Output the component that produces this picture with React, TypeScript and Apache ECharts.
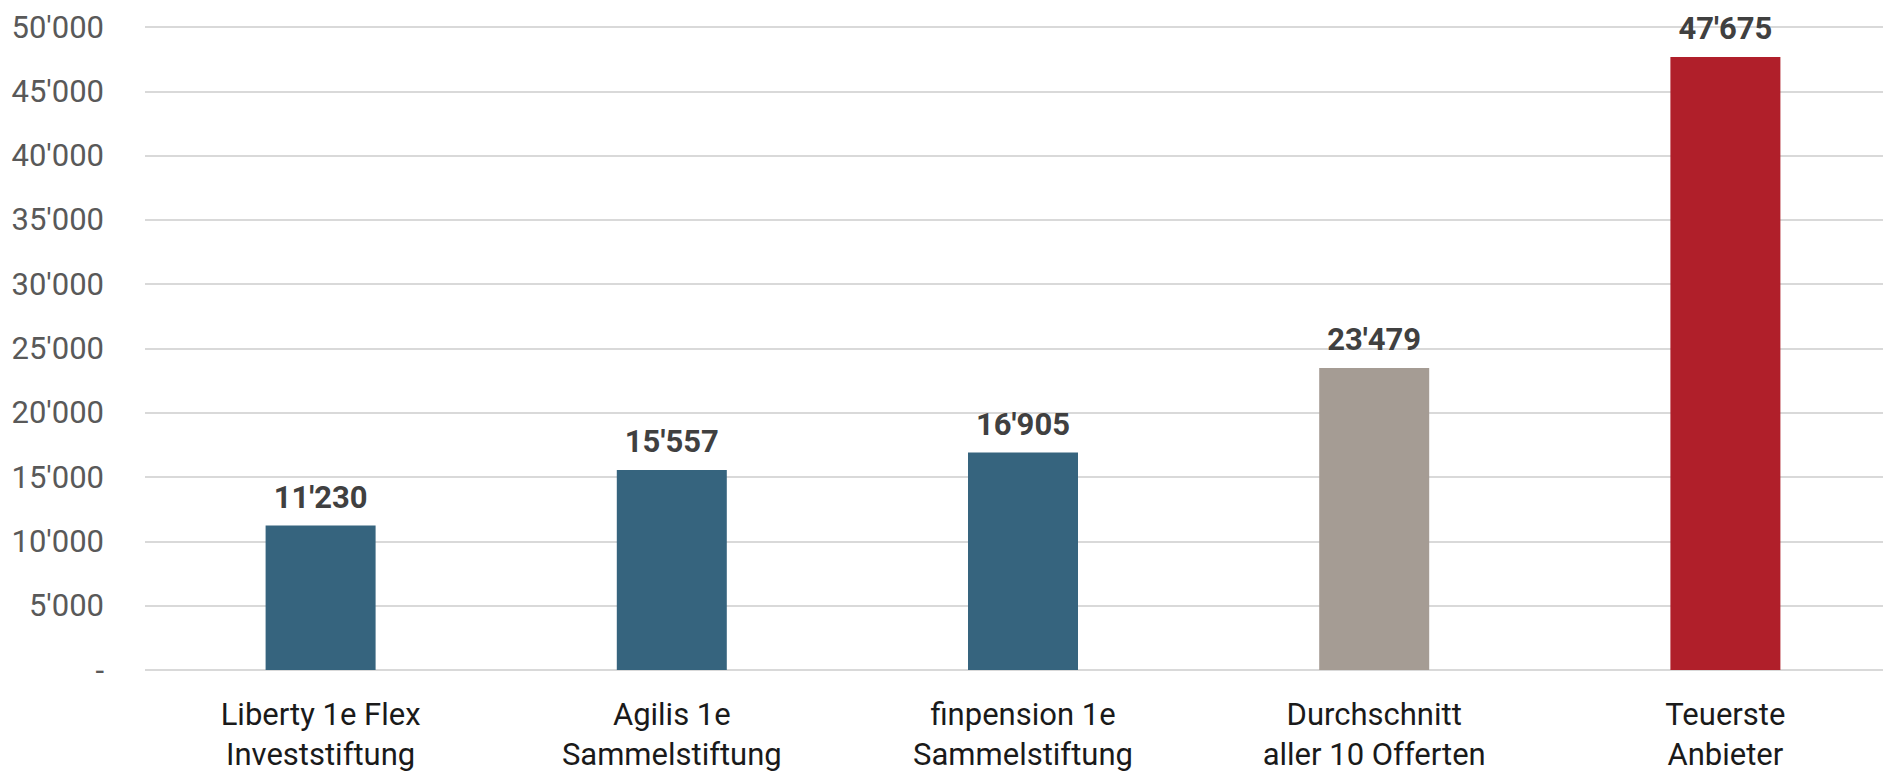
import React, { useEffect, useRef } from "react";
import * as echarts from "echarts";

const categories = [
  "Liberty 1e Flex\nInveststiftung",
  "Agilis 1e\nSammelstiftung",
  "finpension 1e\nSammelstiftung",
  "Durchschnitt\naller 10 Offerten",
  "Teuerste\nAnbieter",
];
const values = [11230, 15557, 16905, 23479, 47675];
const barColors = ["#36647E", "#36647E", "#36647E", "#A59C94", "#B01F2A"];

const fmt = (v: number) =>
  v === 0 ? "-" : String(Math.round(v)).replace(/\B(?=(\d{3})+(?!\d))/g, "'");

export default function App() {
  const ref = useRef<HTMLDivElement>(null);
  useEffect(() => {
    if (!ref.current) return;
    const chart = echarts.init(ref.current, null, { renderer: "svg" });
    chart.setOption({
      animation: false,
      backgroundColor: "#ffffff",
      grid: {
        left: 145,
        top: 27,
        width: 1756,
        height: 643,
        containLabel: false,
        outerBoundsMode: "none",
      },
      xAxis: {
        type: "category",
        data: categories,
        axisLine: { show: false },
        axisTick: { show: false },
        axisLabel: {
          color: "#1a1a1a",
          fontFamily: "Roboto",
          fontSize: 31,
          lineHeight: 40,
          margin: 24,
          interval: 0,
        },
      },
      yAxis: {
        type: "value",
        min: 0,
        max: 50000,
        interval: 5000,
        axisLine: { show: false },
        axisTick: { show: false },
        splitLine: { lineStyle: { color: "#D9D9D9", width: 2 } },
        axisLabel: {
          color: "#595959",
          fontFamily: "Roboto",
          fontSize: 31,
          margin: 41,
          formatter: (v: number) => fmt(v),
        },
      },
      series: [
        {
          type: "bar",
          barWidth: 110,
          data: values.map((v, i) => ({ value: v, itemStyle: { color: barColors[i] } })),
          label: {
            show: true,
            position: "top",
            distance: 13,
            color: "#404040",
            fontFamily: "Roboto",
            fontWeight: "bold",
            fontSize: 31,
            formatter: (p: any) => fmt(p.value),
          },
        },
      ],
    });
    return () => chart.dispose();
  }, []);
  return (
    <div
      ref={ref}
      style={{ position: "fixed", left: 0, top: 0, width: 1920, height: 774 }}
    />
  );
}
